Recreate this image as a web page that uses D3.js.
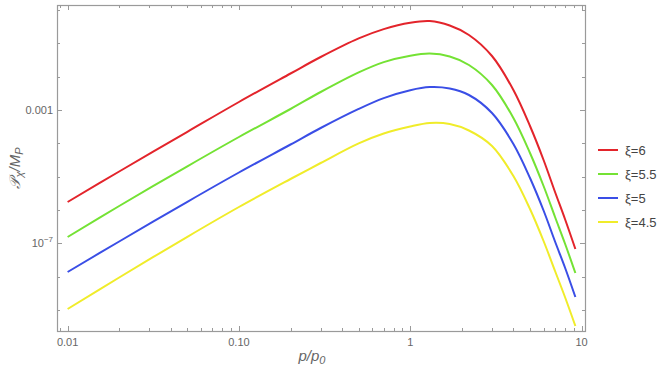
<!DOCTYPE html>
<html>
<head>
<meta charset="utf-8">
<script src="https://cdn.jsdelivr.net/npm/d3@7"></script>
<style>
  body { margin: 0; background: #fff; }
  svg { display: block; font-family: "Liberation Sans", Arial, sans-serif; }
</style>
</head>
<body>
<div id="chart"></div>
<script>
// momentum samples p/p0
const momenta = [0.01, 0.02, 0.05, 0.1, 0.2, 0.3, 0.5, 0.7, 1, 1.3, 1.7, 2.2, 3, 4, 5, 6, 7, 8, 9.2];

// log10(P_chi / M_P), one list per xi
const xi6 = [-5.76, -4.845, -3.654, -2.76, -1.905, -1.41, -0.852, -0.573, -0.381, -0.333, -0.465, -0.75, -1.38, -2.40, -3.48, -4.50, -5.46, -6.27, -7.17];
const xi55 = [-6.81, -5.88, -4.689, -3.81, -2.97, -2.46, -1.872, -1.563, -1.371, -1.308, -1.395, -1.65, -2.25, -3.24, -4.29, -5.28, -6.21, -7.005, -7.89];
const xi5 = [-7.86, -6.945, -5.754, -4.875, -4.035, -3.54, -2.967, -2.643, -2.406, -2.313, -2.355, -2.55, -3.09, -4.02, -5.04, -6.015, -6.945, -7.725, -8.61];
const xi45 = [-8.97, -8.025, -6.804, -5.91, -5.07, -4.59, -4.002, -3.705, -3.495, -3.39, -3.42, -3.615, -4.08, -4.98, -5.97, -6.93, -7.83, -8.61, -9.48];

const seriesNames = ["\u03BE=6", "\u03BE=5.5", "\u03BE=5", "\u03BE=4.5"];
const seriesColors = ["#e3242b", "#74e234", "#3a4ee6", "#f0ec2a"];

const xMajor = [0.01, 0.1, 1, 10];
const xMajorLabels = ["0.01", "0.10", "1", "10"];
const yLabeled = [1e-3, 1e-7];

const width = 664, height = 373;
const marginLeft = 57, marginRight = 79, marginTop = 5, marginBottom = 42;

const x = d3.scaleLog()
  .domain([Math.pow(10, -2.062), Math.pow(10, 1.02)])
  .range([marginLeft, width - marginRight]);

const y = d3.scaleLog()
  .domain([Math.pow(10, -9.63), Math.pow(10, 0.15)])
  .range([height - marginBottom, marginTop]);

const svg = d3.select("#chart").append("svg")
  .attr("width", width)
  .attr("height", height);

const frameColor = "#9a9a9a";
const textColor = "#666";

// tick positions
const xMinor = [];
[0.001, 0.01, 0.1, 1].forEach(d => {
  for (let k = 2; k <= 9; k++) xMinor.push(d * k);
});
const xMinorIn = xMinor.filter(v => v >= x.domain()[0] && v <= x.domain()[1] && !xMajor.includes(v));
const yDecades = d3.range(-9, 1).map(e => Math.pow(10, e));

const x0 = marginLeft, x1 = width - marginRight;
const y0 = height - marginBottom, y1 = marginTop;

const ticks = svg.append("g").attr("stroke", frameColor).attr("stroke-width", 1);

// bottom & top x ticks
xMajor.forEach(v => {
  const px = Math.round(x(v)) + 0.5;
  ticks.append("line").attr("x1", px).attr("x2", px).attr("y1", y0).attr("y2", y0 - 5);
  ticks.append("line").attr("x1", px).attr("x2", px).attr("y1", y1).attr("y2", y1 + 5);
});
xMinorIn.forEach(v => {
  const px = Math.round(x(v)) + 0.5;
  ticks.append("line").attr("x1", px).attr("x2", px).attr("y1", y0).attr("y2", y0 - 3);
  ticks.append("line").attr("x1", px).attr("x2", px).attr("y1", y1).attr("y2", y1 + 3);
});

// left & right y ticks
yDecades.forEach(v => {
  const py = Math.round(y(v)) + 0.5;
  const len = yLabeled.includes(v) ? 5 : 3;
  ticks.append("line").attr("x1", x0).attr("x2", x0 + len).attr("y1", py).attr("y2", py);
  ticks.append("line").attr("x1", x1).attr("x2", x1 - len).attr("y1", py).attr("y2", py);
});

// frame
svg.append("rect")
  .attr("x", x0 + 0.5).attr("y", y1 + 0.5)
  .attr("width", x1 - x0).attr("height", y0 - y1)
  .attr("fill", "none")
  .attr("stroke", frameColor)
  .attr("stroke-width", 1.2);

// tick labels
svg.append("g")
  .attr("fill", textColor)
  .attr("font-size", 11)
  .attr("text-anchor", "middle")
  .selectAll("text")
  .data(xMajor)
  .join("text")
  .attr("x", d => x(d))
  .attr("y", y0 + 15)
  .text((d, i) => xMajorLabels[i]);

const yl = svg.append("g")
  .attr("fill", textColor)
  .attr("font-size", 11)
  .attr("text-anchor", "end");
yl.append("text").attr("x", x0 - 4).attr("y", y(1e-3) + 4).text("0.001");
const t7 = yl.append("text").attr("x", x0 - 4).attr("y", y(1e-7) + 4);
t7.append("tspan").text("10");
t7.append("tspan").attr("dy", -5).attr("font-size", 8).text("\u22127");

// axis titles
const xt = svg.append("text")
  .attr("x", 312).attr("y", 361)
  .attr("fill", textColor)
  .attr("font-size", 15)
  .attr("font-style", "italic")
  .attr("text-anchor", "middle");
xt.append("tspan").text("p/p");
xt.append("tspan").attr("dy", 3).attr("font-size", 11).text("0");

const yt = svg.append("text")
  .attr("transform", "translate(20,168) rotate(-90)")
  .attr("fill", textColor)
  .attr("font-size", 15)
  .attr("font-style", "italic")
  .attr("text-anchor", "middle");
yt.append("tspan").attr("font-family", "DejaVu Serif").attr("font-style", "italic").text("\uD835\uDCAB");
yt.append("tspan").attr("dy", 3).attr("font-size", 11).text("\u03C7");
yt.append("tspan").attr("dy", -3).text("/M");
yt.append("tspan").attr("dy", 3).attr("font-size", 11).text("P");

// curves
const allSeries = [xi6, xi55, xi5, xi45];
const line = d3.line()
  .x(d => x(d[0]))
  .y(d => y(d[1]))
  .curve(d3.curveCatmullRom.alpha(0.5));

svg.append("g")
  .attr("fill", "none")
  .attr("stroke-width", 2)
  .selectAll("path")
  .data(allSeries)
  .join("path")
  .attr("stroke", (d, i) => seriesColors[i])
  .attr("d", s => line(momenta.map((p, i) => [p, Math.pow(10, s[i])])));

// legend
const legend = svg.append("g")
  .selectAll("g")
  .data(seriesNames)
  .join("g")
  .attr("transform", (d, i) => `translate(598,${150 + i * 24})`);
legend.append("line")
  .attr("x1", 0).attr("x2", 20)
  .attr("stroke-width", 2)
  .attr("stroke", (d, i) => seriesColors[i]);
legend.append("text")
  .attr("x", 27).attr("y", 5)
  .attr("fill", "#444")
  .attr("font-size", 13)
  .text(d => d);
</script>
</body>
</html>
